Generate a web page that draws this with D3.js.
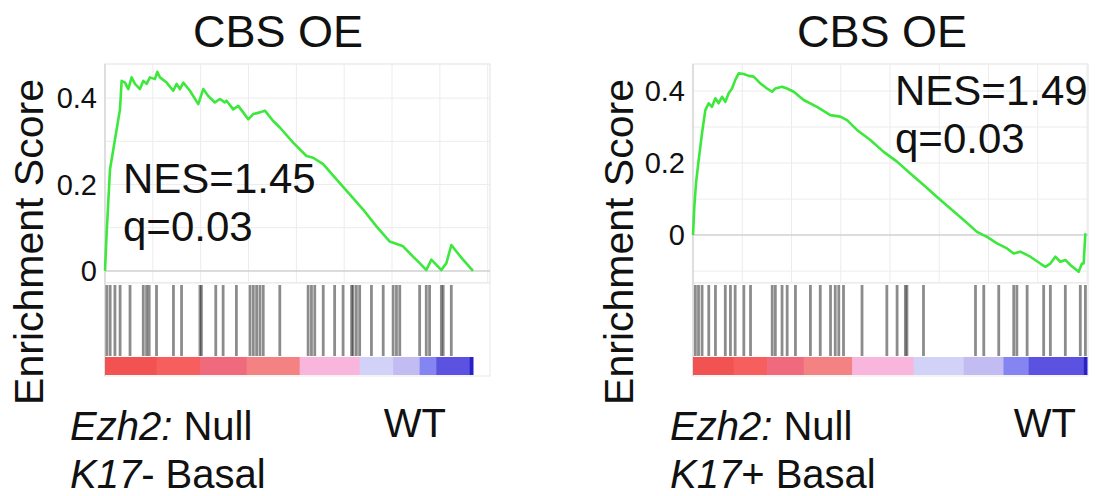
<!DOCTYPE html>
<html>
<head>
<meta charset="utf-8">
<script src="https://cdn.jsdelivr.net/npm/d3@7"></script>
<style>
  body { margin: 0; background: #fff; }
  svg text { font-family: "Liberation Sans", Arial, sans-serif; fill: #111; }
</style>
</head>
<body>
<script>
// ranks are in 0..1000 units along the ordered gene list
var leftRanks = [0, 4.5, 13.6, 22.6, 31.7, 40.7, 45.2, 54.3, 63.3, 72.4, 81.4, 95, 104.1, 113.1, 122.2, 135.7, 142.1, 149.3, 167.4, 185.5, 194.6, 203.6, 212.7, 230.8, 253.4, 267, 280.5, 298.6, 312.2, 325.8, 330.3, 348.4, 362, 375.6, 389.1, 402.7, 420.8, 434.4, 457, 475.1, 511.3, 547.5, 565.6, 592.8, 629, 665.2, 701.4, 737.6, 773.8, 810, 837.1, 855.2, 873.3, 886.9, 900.5, 914, 927.6, 941.2, 954.8, 972.9, 1000];
var leftES = [0, 0.088, 0.235, 0.281, 0.328, 0.374, 0.44, 0.436, 0.421, 0.448, 0.433, 0.421, 0.44, 0.433, 0.448, 0.444, 0.461, 0.448, 0.436, 0.417, 0.433, 0.421, 0.436, 0.417, 0.386, 0.421, 0.405, 0.39, 0.398, 0.39, 0.394, 0.374, 0.382, 0.367, 0.351, 0.363, 0.367, 0.371, 0.347, 0.332, 0.297, 0.266, 0.262, 0.247, 0.212, 0.177, 0.142, 0.103, 0.068, 0.057, 0.033, 0.018, 0.002, 0.026, 0.014, 0.002, 0.018, 0.06, 0.045, 0.026, 0];
var leftHits = [5, 14, 27, 41, 68, 104, 113, 120, 140, 186, 208, 258, 262, 301, 321, 357, 394, 403, 412, 421, 430, 475, 552, 561, 570, 593, 624, 647, 670, 674, 683, 692, 724, 756, 783, 792, 801, 855, 873, 882, 914, 919, 941];

var rightRanks = [0, 3.4, 7.6, 14.4, 22.8, 31.3, 39.8, 48.2, 56.7, 65.1, 73.6, 82.1, 90.5, 99, 107.4, 115.9, 128.6, 141.3, 154, 170.9, 187.8, 200.5, 209, 225.9, 238.6, 255.5, 280.9, 314.7, 348.6, 373.9, 390.9, 416.2, 450.1, 483.9, 517.8, 551.6, 585.4, 619.3, 653.1, 687, 720.8, 746.2, 771.6, 797, 813.9, 830.8, 856.2, 881.5, 894.2, 906.9, 919.6, 932.3, 945, 957.7, 978.8, 987.3, 991.5, 995.8];
var rightES = [0, 0.079, 0.144, 0.208, 0.282, 0.347, 0.366, 0.356, 0.38, 0.366, 0.384, 0.37, 0.394, 0.407, 0.431, 0.449, 0.447, 0.442, 0.44, 0.421, 0.407, 0.398, 0.407, 0.412, 0.407, 0.398, 0.375, 0.356, 0.333, 0.329, 0.319, 0.292, 0.264, 0.231, 0.204, 0.171, 0.139, 0.106, 0.074, 0.042, 0.009, -0.005, -0.023, -0.037, -0.051, -0.046, -0.06, -0.079, -0.088, -0.079, -0.06, -0.074, -0.069, -0.083, -0.102, -0.079, -0.079, 0.005];
var rightHits = [6, 14, 23, 40, 57, 82, 95, 107, 129, 146, 201, 209, 226, 239, 260, 298, 323, 349, 361, 370, 382, 429, 492, 518, 539, 543, 585, 717, 738, 776, 814, 822, 848, 890, 907, 945, 983, 996];

// ranked-list colour bar: segment edges (ranks) and colours
var leftBarEdges = [0, 140, 258, 385, 529, 692, 783, 855, 900, 991, 1000];
var rightBarEdges = [0, 103, 188, 281, 404, 560, 687, 788, 852, 992, 1000];
var barColors = ["#f35252", "#f75e5e", "#ee6a7c", "#f58282", "#f9b6dc", "#d2d2f8", "#c2bcf2", "#8484f2", "#5c52e2", "#2a20c8"];

var yTickValues = [0, 0.2, 0.4];
var leftGridRanks = [0, 130, 260, 390, 520, 650, 780, 910, 1040];
var rightGridRanks = [0, 125, 250, 375, 500, 625, 750, 875, 1000];
var leftGridES = [-0.1, 0.1, 0.2, 0.3, 0.4];
var rightGridES = [-0.1, 0.1, 0.2, 0.3, 0.4];

var titles = ["CBS OE", "CBS OE"];
var stats = [["NES=1.45", "q=0.03"], ["NES=1.49", "q=0.03"]];
var groupLines = [["K17", "- Basal"], ["K17", "+ Basal"]];

var svg = d3.select("body").append("svg")
    .attr("width", 1097)
    .attr("height", 496);

function drawPanel(p) {
    var g = svg.append("g");

    var x = d3.scaleLinear().domain([0, 1000]).range([p.left, p.dataRight]);
    var y = d3.scaleLinear().domain(p.yDomain).range([283, 64]);

    // frames
    g.append("rect")
        .attr("x", p.left).attr("y", 64)
        .attr("width", p.frameRight - p.left).attr("height", 283 - 64)
        .attr("fill", "#fff").attr("stroke", "#e2e2e2");
    g.append("rect")
        .attr("x", p.left).attr("y", 283)
        .attr("width", p.frameRight - p.left).attr("height", 93)
        .attr("fill", "#fff").attr("stroke", "#e8e8e8");

    // grid
    g.selectAll(".vgrid")
        .data(p.gridRanks)
        .enter().append("line")
        .attr("x1", d => x(d)).attr("x2", d => x(d))
        .attr("y1", 64).attr("y2", 283)
        .attr("stroke", "#ececec");
    g.selectAll(".hgrid")
        .data(p.gridES.filter(d => d > p.yDomain[0]))
        .enter().append("line")
        .attr("x1", p.left).attr("x2", p.frameRight)
        .attr("y1", d => y(d)).attr("y2", d => y(d))
        .attr("stroke", "#ececec");
    g.append("line")
        .attr("x1", p.left).attr("x2", p.frameRight)
        .attr("y1", y(0)).attr("y2", y(0))
        .attr("stroke", "#d0d0d0").attr("stroke-width", 1.5);
    g.append("line")
        .attr("x1", p.left).attr("x2", p.left)
        .attr("y1", 64).attr("y2", 376)
        .attr("stroke", "#cfcfcf");

    // y tick labels
    g.selectAll(".ytick")
        .data(yTickValues)
        .enter().append("text")
        .attr("x", p.left - 8)
        .attr("y", d => y(d))
        .attr("dy", "0.35em")
        .attr("text-anchor", "end")
        .style("font-size", "29px")
        .text(d => d === 0 ? "0" : d3.format(".1f")(d));

    // hits
    g.selectAll(".hit")
        .data(p.hits)
        .enter().append("line")
        .attr("x1", d => x(d)).attr("x2", d => x(d))
        .attr("y1", 285).attr("y2", 356)
        .attr("stroke", "#2e2e2e")
        .attr("stroke-opacity", 0.55)
        .attr("stroke-width", 2.8);

    // ranked list colour bar
    var segs = p.barEdges.slice(0, -1).map((e, i) => ({a: e, b: p.barEdges[i + 1], c: barColors[i]}));
    g.selectAll(".seg")
        .data(segs)
        .enter().append("rect")
        .attr("x", d => x(d.a))
        .attr("width", d => x(d.b) - x(d.a) + 0.5)
        .attr("y", 357).attr("height", 18)
        .attr("fill", d => d.c);

    // running enrichment score
    var pts = p.ranks.map((r, i) => [r, p.es[i]]);
    g.append("path")
        .datum(pts)
        .attr("fill", "none")
        .attr("stroke", "#3de83d")
        .attr("stroke-width", 2.6)
        .attr("stroke-linejoin", "round")
        .attr("d", d3.line().x(d => x(d[0])).y(d => y(d[1])));

    // stats
    g.append("text").attr("x", p.statX).attr("y", p.statY)
        .style("font-size", "42px").text(p.stats[0]);
    g.append("text").attr("x", p.statX).attr("y", p.statY + 48)
        .style("font-size", "42px").text(p.stats[1]);

    // title
    g.append("text").attr("x", p.titleX).attr("y", 47)
        .attr("text-anchor", "middle")
        .style("font-size", "45px").text(p.title);

    // y axis label
    g.append("text")
        .attr("transform", "translate(" + p.yLabelX + ",242) rotate(-90)")
        .attr("text-anchor", "middle")
        .style("font-size", "41px")
        .text("Enrichment Score");

    // phenotype labels
    var t1 = g.append("text").attr("x", p.phenoX).attr("y", 440).style("font-size", "40px");
    t1.append("tspan").style("font-style", "italic").text("Ezh2:");
    t1.append("tspan").text(" Null");
    var t2 = g.append("text").attr("x", p.phenoX).attr("y", 488).style("font-size", "40px");
    t2.append("tspan").style("font-style", "italic").text(p.group[0]);
    t2.append("tspan").text(p.group[1]);
    g.append("text").attr("x", p.wtX).attr("y", 437)
        .attr("text-anchor", "end")
        .style("font-size", "40px").text("WT");
}

drawPanel({
    left: 105, dataRight: 473, frameRight: 490,
    yDomain: [-0.028, 0.479],
    gridRanks: leftGridRanks, gridES: leftGridES,
    ranks: leftRanks, es: leftES, hits: leftHits, barEdges: leftBarEdges,
    stats: stats[0], statX: 123, statY: 193,
    title: titles[0], titleX: 278, yLabelX: 43,
    phenoX: 70, group: groupLines[0], wtX: 446
});

drawPanel({
    left: 693, dataRight: 1087, frameRight: 1088,
    yDomain: [-0.133, 0.475],
    gridRanks: rightGridRanks, gridES: rightGridES,
    ranks: rightRanks, es: rightES, hits: rightHits, barEdges: rightBarEdges,
    stats: stats[1], statX: 895, statY: 105,
    title: titles[1], titleX: 882, yLabelX: 633,
    phenoX: 670, group: groupLines[1], wtX: 1076
});
</script>
</body>
</html>
